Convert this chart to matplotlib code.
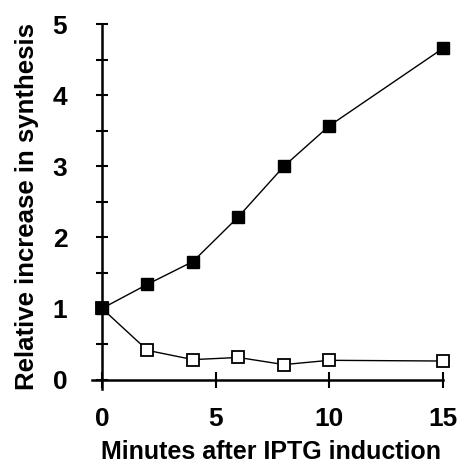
import matplotlib.pyplot as plt
from matplotlib.ticker import MultipleLocator

plt.rcParams["font.family"] = ["Liberation Sans", "DejaVu Sans"]
plt.rcParams["font.weight"] = "bold"

minutes = [0, 2, 4, 6, 8, 10, 15]
filled = [1.0, 1.34, 1.66, 2.29, 3.0, 3.57, 4.66]
open_sq = [1.0, 0.41, 0.28, 0.31, 0.21, 0.27, 0.26]

xticks = [0, 5, 10, 15]
yticks = [0, 1, 2, 3, 4, 5]


def main() -> None:
    fig = plt.figure(figsize=(4.59, 4.65), dpi=100)
    ax = fig.add_axes([0.2, 0.164, 0.78, 0.784])

    ax.plot(minutes, open_sq, color="black", linewidth=1.0, marker="s",
            markersize=8, markerfacecolor="white", markeredgecolor="black",
            markeredgewidth=1.3, zorder=3)
    ax.plot(minutes, filled, color="black", linewidth=1.0, marker="s",
            markersize=9, markerfacecolor="black", markeredgecolor="black",
            zorder=4)

    ax.set_xlim(-0.45, 15.3)
    ax.set_ylim(-0.13, 5.0)

    for side in ("top", "right"):
        ax.spines[side].set_visible(False)
    ax.spines["left"].set_position(("data", 0))
    ax.spines["bottom"].set_position(("data", 0))
    ax.spines["left"].set_linewidth(1.8)
    ax.spines["bottom"].set_linewidth(1.8)
    ax.spines["bottom"].set_bounds(-0.45, 15)

    ax.set_xticks(xticks)
    ax.set_yticks(yticks)
    ax.yaxis.set_minor_locator(MultipleLocator(0.5))
    ax.tick_params(axis="y", which="both", direction="inout", length=8,
                   width=1.5, pad=21, labelsize=19)
    ax.tick_params(axis="x", which="both", direction="inout", length=11,
                   width=1.5, pad=14, labelsize=19)
    ax.set_xticklabels([str(t) for t in xticks])
    ax.set_yticklabels([str(t) for t in yticks])

    ax.set_xlabel("Minutes after IPTG induction", fontsize=18,
                  fontweight="bold", labelpad=7)
    ax.set_ylabel("Relative increase in synthesis", fontsize=18.5,
                  fontweight="bold", labelpad=10)

    fig.savefig("out.png", dpi=100)


if __name__ == "__main__":
    main()
